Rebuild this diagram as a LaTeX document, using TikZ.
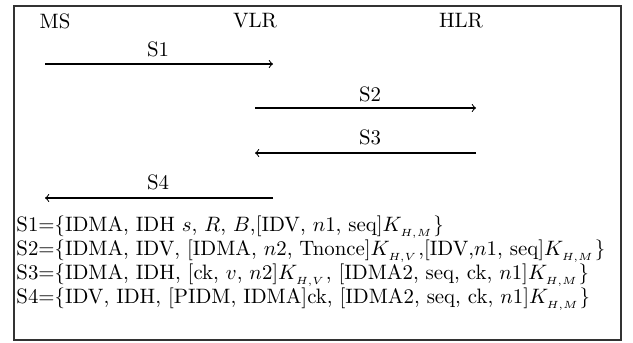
\documentclass[tikz,border=0pt]{standalone}
\begin{document}
\begin{tikzpicture}[x=0.48pt,y=-0.48pt,
  lbl/.style={inner sep=0pt,anchor=center},
  eq/.style={inner sep=0pt,anchor=west},
  msg/.style={->,line width=0.5pt}]
\useasboundingbox (0,0) rectangle (633,342);
\draw[line width=0.7pt,black!80] (14,6) rectangle (621,340);
\node[lbl] (ms) at (55,21) {MS};
\node[lbl] (vlr) at (255,21) {VLR};
\node[lbl] (hlr) at (461,21) {HLR};
\node[lbl] (s1) at (158,49) {S1};
\node[lbl] (s2) at (370,94) {S2};
\node[lbl] (s3) at (370,137) {S3};
\node[lbl] (s4) at (158,182) {S4};
\coordinate (a1) at (45,64); \coordinate (b1) at (273,64);
\coordinate (a2) at (255,108); \coordinate (b2) at (476,108);
\coordinate (a3) at (476,153); \coordinate (b3) at (255,153);
\coordinate (a4) at (273,198); \coordinate (b4) at (45,198);
\draw[msg] (a1) -- (b1);
\draw[msg] (a2) -- (b2);
\draw[msg] (a3) -- (b3);
\draw[msg] (a4) -- (b4);
\node[eq] (e1) at (16,227) {S1=\{IDMA, IDH $s$, $R$, $B$,[IDV, $n1$, seq]$K_{_{H,M}}$\}};
\node[eq] (e2) at (16,251) {S2=\{IDMA, IDV, [IDMA, $n2$, Tnonce]$K_{_{H,V}}$,[IDV,$n1$, seq]$K_{_{H,M}}$\}};
\node[eq] (e3) at (16,275) {S3=\{IDMA, IDH, [ck, $v$, $n2$]$K_{_{H,V}}$, [IDMA2, seq, ck, $n1$]$K_{_{H,M}}$\}};
\node[eq] (e4) at (16,299) {S4=\{IDV, IDH, [PIDM, IDMA]ck, [IDMA2, seq, ck, $n1$]$K_{_{H,M}}$\}};
\end{tikzpicture}
\end{document}
